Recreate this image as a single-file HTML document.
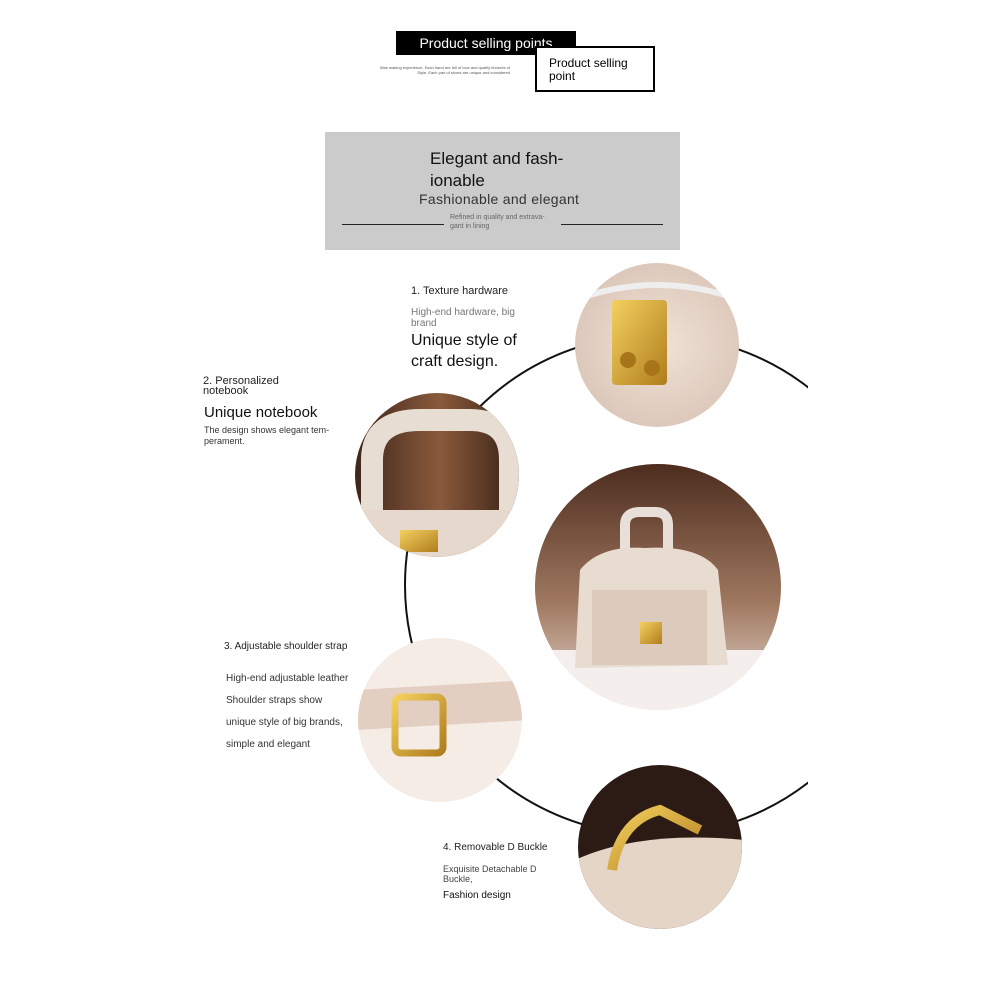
<!DOCTYPE html>
<html><head><meta charset="utf-8"><style>
body{margin:0;background:#fff;width:1000px;height:1000px;overflow:hidden;font-family:"Liberation Sans",sans-serif;position:relative}
.a{position:absolute;white-space:nowrap}
</style></head><body>
<svg width="1000" height="1000" style="position:absolute;left:0;top:0">
<defs>
<radialGradient id="bg1" cx="50%" cy="50%" r="60%"><stop offset="0" stop-color="#efe2d6"/><stop offset="1" stop-color="#d8c2b4"/></radialGradient>
<linearGradient id="dark" x1="0" y1="0" x2="1" y2="0"><stop offset="0" stop-color="#3a2218"/><stop offset="0.5" stop-color="#8a5a3c"/><stop offset="1" stop-color="#2a1810"/></linearGradient>
<linearGradient id="gold" x1="0" y1="0" x2="1" y2="1"><stop offset="0" stop-color="#f3d060"/><stop offset="1" stop-color="#b07d1c"/></linearGradient>
<linearGradient id="bagbg" x1="0" y1="0" x2="0" y2="1"><stop offset="0" stop-color="#4a2a1c"/><stop offset="0.55" stop-color="#a07860"/><stop offset="1" stop-color="#efe6e0"/></linearGradient>
<clipPath id="c1"><circle cx="657" cy="345" r="82"/></clipPath>
<clipPath id="c2"><circle cx="437" cy="475" r="82"/></clipPath>
<clipPath id="c3"><circle cx="658" cy="587" r="123"/></clipPath>
<clipPath id="c4"><circle cx="440" cy="720" r="82"/></clipPath>
<clipPath id="c5"><circle cx="660" cy="847" r="82"/></clipPath>
<clipPath id="arc"><rect x="0" y="0" width="808" height="1000"/></clipPath>
</defs>
<circle cx="655" cy="585" r="250" fill="none" stroke="#111" stroke-width="2" clip-path="url(#arc)"/>
<!-- circle 1 -->
<g clip-path="url(#c1)"><rect x="570" y="260" width="180" height="170" fill="url(#bg1)"/>
<rect x="612" y="300" width="55" height="85" rx="4" fill="url(#gold)"/><circle cx="628" cy="360" r="8" fill="#a8741a"/><circle cx="652" cy="368" r="8" fill="#a8741a"/>
<path d="M575 300 Q657 270 740 300" stroke="#eee" stroke-width="6" fill="none"/></g>
<!-- circle 2 -->
<g clip-path="url(#c2)"><rect x="350" y="390" width="180" height="170" fill="url(#dark)"/>
<path d="M372 530 L372 460 Q372 420 420 420 L470 420 Q510 420 510 460 L510 530" stroke="#e8ddd2" stroke-width="22" fill="none"/>
<rect x="355" y="510" width="170" height="50" fill="#e6d8cc"/><rect x="400" y="530" width="38" height="22" fill="url(#gold)"/></g>
<!-- circle 3 -->
<g clip-path="url(#c3)"><rect x="530" y="460" width="260" height="260" fill="url(#bagbg)"/>
<rect x="530" y="650" width="260" height="70" fill="#f4efec"/>
<path d="M625 550 L625 525 Q625 512 640 512 L655 512 Q668 512 668 525 L668 550" stroke="#e8e0d8" stroke-width="10" fill="none"/>
<path d="M580 570 Q600 545 645 548 Q700 545 718 570 L728 665 L575 668 Z" fill="#e7dccf"/>
<rect x="592" y="590" width="115" height="75" fill="#dccbbc"/><rect x="640" y="622" width="22" height="22" fill="url(#gold)"/></g>
<!-- circle 4 -->
<g clip-path="url(#c4)"><rect x="355" y="635" width="180" height="170" fill="#f6ece6"/>
<path d="M355 690 L530 680 L530 720 L355 730 Z" fill="#e3cfc2"/>
<rect x="395" y="697" width="48" height="56" rx="6" fill="none" stroke="url(#gold)" stroke-width="7"/></g>
<!-- circle 5 -->
<g clip-path="url(#c5)"><rect x="575" y="762" width="170" height="170" fill="#2c1a14"/>
<path d="M575 860 Q640 830 745 840 L745 935 L575 935 Z" fill="#e5d5c6"/>
<path d="M612 870 Q620 820 660 810 L700 830" stroke="url(#gold)" stroke-width="10" fill="none"/></g>
</svg>
<div class="a" style="left:396px;top:31px;width:180px;height:24px;background:#000;color:#fff;font-size:14px;line-height:24px;text-align:center">Product selling points</div>
<div class="a" style="left:535px;top:46px;width:120px;height:46px;border:2px solid #000;background:#fff;font-size:12px;line-height:13px;padding:9px 0 0 12px;box-sizing:border-box;white-space:normal">Product selling point</div>
<div class="a" style="left:370px;top:65px;width:140px;font-size:4px;line-height:5px;color:#555;text-align:right;white-space:normal">Was making experience, Each hand are full of love and quality textures of Style, Each pair of shoes are unique and considered</div>
<div class="a" style="left:325px;top:132px;width:355px;height:118px;background:#cbcbcb"></div>
<div class="a" style="left:430px;top:148px;font-size:17px;line-height:22px;color:#111">Elegant and fash-<br>ionable</div>
<div class="a" style="left:419px;top:191px;font-size:14px;color:#333;letter-spacing:0.3px">Fashionable and elegant</div>
<div class="a" style="left:342px;top:224px;width:102px;height:1px;background:#222"></div>
<div class="a" style="left:561px;top:224px;width:102px;height:1px;background:#222"></div>
<div class="a" style="left:450px;top:213px;font-size:7px;line-height:9px;color:#666">Refined in quality and extrava-<br>gant in lining</div>
<div class="a" style="left:411px;top:285px;font-size:11px;color:#222">1. Texture hardware</div>
<div class="a" style="left:411px;top:307px;font-size:10px;line-height:11px;color:#777">High-end hardware, big<br>brand</div>
<div class="a" style="left:411px;top:330px;font-size:16px;line-height:21px;color:#111">Unique style of<br>craft design.</div>
<div class="a" style="left:203px;top:376px;font-size:11px;line-height:10px;color:#222">2. Personalized<br>notebook</div>
<div class="a" style="left:204px;top:404px;font-size:15px;color:#111">Unique notebook</div>
<div class="a" style="left:204px;top:425px;font-size:9px;line-height:11px;color:#333">The design shows elegant tem-<br>perament.</div>
<div class="a" style="left:224px;top:641px;font-size:10px;color:#222">3. Adjustable shoulder strap</div>
<div class="a" style="left:226px;top:668px;font-size:10px;line-height:22px;color:#333">High-end adjustable leather<br>Shoulder straps show<br>unique style of big brands,<br>simple and elegant</div>
<div class="a" style="left:443px;top:842px;font-size:10px;color:#222">4. Removable D Buckle</div>
<div class="a" style="left:443px;top:864px;font-size:9px;line-height:10px;color:#444">Exquisite Detachable D<br>Buckle,</div>
<div class="a" style="left:443px;top:890px;font-size:10px;color:#111">Fashion design</div>
</body></html>
